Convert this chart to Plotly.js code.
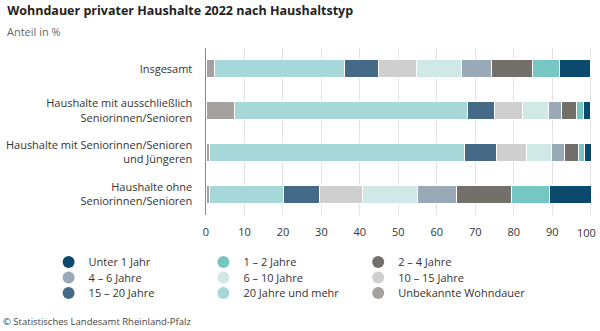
<!DOCTYPE html>
<html>
<head>
<meta charset="utf-8">
<script src="https://cdn.plot.ly/plotly-3.0.1.min.js"></script>
<style>html,body{margin:0;padding:0;background:#fff;}#chart{width:600px;height:331px;}</style>
</head>
<body>
<div id="chart"></div>
<script>
const categories = [
  "Insgesamt",
  "Haushalte mit ausschließlich<br>Seniorinnen/Senioren",
  "Haushalte mit Seniorinnen/Senioren<br>und Jüngeren",
  "Haushalte ohne<br>Seniorinnen/Senioren"
];
// stacking order left to right
const seriesNames = ["Unbekannte Wohndauer","20 Jahre und mehr","15 – 20 Jahre","10 – 15 Jahre","6 – 10 Jahre","4 – 6 Jahre","2 – 4 Jahre","1 – 2 Jahre","Unter 1 Jahr"];
const unbekannt   = [2.3, 7.5, 1.0, 0.8];
const j20plus     = [33.8, 60.4, 66.1, 19.4];
const j15_20      = [8.8, 7.0, 8.3, 9.2];
const j10_15      = [9.9, 7.3, 7.9, 11.3];
const j6_10       = [11.6, 6.9, 6.6, 14.2];
const j4_6        = [7.9, 3.4, 3.2, 10.2];
const j2_4        = [10.6, 3.9, 3.7, 14.2];
const j1_2        = [7.1, 1.8, 1.6, 9.9];
const unter1      = [7.9, 1.8, 1.9, 11.1];
const seriesValues = [unbekannt, j20plus, j15_20, j10_15, j6_10, j4_6, j2_4, j1_2, unter1];
const colors = ["#a4a19e","#a6d8d9","#456a87","#cfcfcf","#d1e9e6","#99a9b8","#736f6b","#76c6c3","#0b4a6c"];
// legend order (3 columns, filled row by row)
const legendOrder = ["Unter 1 Jahr","1 – 2 Jahre","2 – 4 Jahre","4 – 6 Jahre","6 – 10 Jahre","10 – 15 Jahre","15 – 20 Jahre","20 Jahre und mehr","Unbekannte Wohndauer"];
const xTicks = [0,10,20,30,40,50,60,70,80,90,100];
const xTickText = ["0","10","20","30","40","50","60","70","80","90",""];
const lastTick = 100; // drawn right-aligned at its gridline
const lastTickText = "100";

const traces = [];
seriesNames.forEach((n,i)=>{
  traces.push({
    type:'bar', orientation:'h', name:n,
    y: categories, x: seriesValues[i],
    marker:{color:colors[i], line:{color:'#ffffff', width:1}},
    showlegend:false
  });
});

const layout = {
  width:600, height:331,
  font:{family:'"Open Sans", sans-serif', size:11, color:'#333'},
  barmode:'stack', bargap:0.57,
  margin:{l:206, r:7, t:48, b:116},
  paper_bgcolor:'#fff', plot_bgcolor:'#fff',
  xaxis:{range:[0,100.6], tickvals:xTicks, ticktext:xTickText, showgrid:true, gridcolor:'#e3e3e3', gridwidth:1,
         zeroline:false, showline:false, ticks:'', tickfont:{size:11,color:'#333'}, fixedrange:true, automargin:false,
         ticklabelstandoff:9},
  yaxis:{autorange:'reversed', type:'category', showline:true, linecolor:'#8a8a8a', linewidth:1.5, ticks:'', ticklen:0,
         tickfont:{size:11,color:'#333'}, ticklabelstandoff:10, showgrid:false, fixedrange:true, automargin:false},
  showlegend:true,
  title:{text:'<b>Wohndauer privater Haushalte 2022 nach Haushaltstyp</b>', x:0.012, xanchor:'left', y:0.982, yanchor:'top',
         font:{size:12.5,color:'#222'}},
  annotations:[
    {text:'Anteil in %', xref:'paper', yref:'paper', x:-0.52, y:1.0, xanchor:'left', yanchor:'bottom', showarrow:false,
     font:{size:11,color:'#666'}, yshift:7},
    {text:lastTickText, xref:'x', yref:'paper', x:lastTick, y:0, xanchor:'right', yanchor:'middle', showarrow:false,
     font:{size:11,color:'#333'}, yshift:-17.5, xshift:7},
    {text:'© Statistisches Landesamt Rheinland-Pfalz', xref:'paper', yref:'paper', x:-0.529, y:-0.635, xanchor:'left', yanchor:'middle',
     showarrow:false, font:{size:9.5,color:'#444'}}
  ]
};

// one single-entry legend per item, arranged in a 3-column grid
const colX = [0.081, 0.339, 0.597];
const rowY = [262, 277.5, 293];
legendOrder.forEach((n,k)=>{
  const i = seriesNames.indexOf(n);
  const id = k === 0 ? 'legend' : 'legend' + (k+1);
  traces.push({
    type:'scatter', mode:'markers', name:n, x:[null], y:[null],
    marker:{color:colors[i], size:12, symbol:'circle'},
    showlegend:true, legend:id
  });
  layout[id] = {orientation:'h', xref:'container', yref:'container', xanchor:'left', yanchor:'middle',
    x: colX[k % 3], y: 1 - rowY[Math.floor(k/3)]/331,
    font:{size:11,color:'#333'}, itemwidth:30, bgcolor:'rgba(0,0,0,0)', borderwidth:0};
});

Plotly.newPlot('chart', traces, layout, {displayModeBar:false, staticPlot:true});
</script>
</body>
</html>
